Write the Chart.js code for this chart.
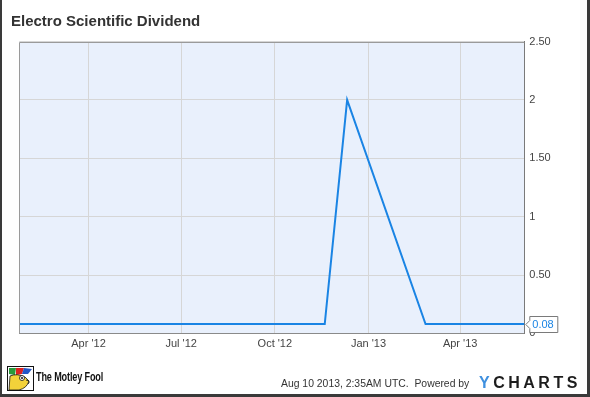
<!DOCTYPE html>
<html><head><meta charset="utf-8">
<script src="https://cdn.jsdelivr.net/npm/chart.js@4"></script>
<style>
html,body{margin:0;padding:0;background:#fff;}
#wrap{position:relative;width:590px;height:397px;overflow:hidden;font-family:"Liberation Sans",Arial,sans-serif;}
#c{position:absolute;left:0;top:0;}
.t{position:absolute;white-space:pre;}
#title{left:11px;top:13px;font-size:15px;line-height:15px;font-weight:bold;color:#333;}
#fool{left:36px;top:370px;font-size:13px;line-height:13px;font-weight:bold;color:#111;transform:scaleX(0.7);transform-origin:left top;letter-spacing:-0.2px;}
#stamp{left:281px;top:378.6px;font-size:10.4px;line-height:10.4px;color:#333;}
#yc{left:479px;top:374.5px;font-size:16px;line-height:16px;font-weight:bold;color:#1d1d1d;letter-spacing:3.5px;}
#yc span{color:#3f90df;}
#frame{position:absolute;left:0;top:0;width:585px;height:394px;border-left:2px solid #3a3a3a;border-right:3px solid #3a3a3a;border-bottom:3px solid #3a3a3a;pointer-events:none;}
#logo{position:absolute;left:7px;top:366px;}
</style></head>
<body>
<div id="wrap">
<canvas id="c" width="590" height="397"></canvas>
<div class="t" id="title">Electro Scientific Dividend</div>
<svg id="logo" width="27" height="25" viewBox="0 0 27 25">
<rect x="0.5" y="0.5" width="26" height="24" fill="#fff" stroke="#111"/>
<path d="M2 2 L9 2 L8 9 L2 8 Z" fill="#2a9a3a"/>
<path d="M9 2 L17 2 L15 8 L9 9 Z" fill="#d22"/>
<path d="M17 2 L25 3 L21 8 L15 8 Z" fill="#2356c8"/>
<path d="M3 10 Q10 7 18 11 L22 15 Q20 22 12 24 L2 24 Z" fill="#f3d23a" stroke="#111" stroke-width="0.8"/>
<circle cx="15" cy="12" r="2.5" fill="#fff" stroke="#111" stroke-width="0.8"/>
<circle cx="15" cy="12" r="1" fill="#111"/>
<path d="M19 14 Q24 15 21 18" fill="none" stroke="#111" stroke-width="0.8"/>
</svg>
<div class="t" id="fool">The Motley Fool</div>
<div class="t" id="stamp">Aug 10 2013, 2:35AM UTC.  Powered by</div>
<div class="t" id="yc"><span>Y</span>CHARTS</div>
<div id="frame"></div>
</div>
<script>
const pointDates = ["2012-01-24","2012-11-19","2012-12-11","2013-02-26","2013-06-03"];
const dividendValues = [0.08,0.08,2.00,0.08,0.08];
const axisStartDate = "2012-01-24";
const axisEndDate = "2013-06-03";
const xTickDates = ["2012-04-01","2012-07-01","2012-10-01","2013-01-01","2013-04-01"];
const xTickLabels = ["Apr '12","Jul '12","Oct '12","Jan '13","Apr '13"];
const yTickValues = [0,0.5,1,1.5,2,2.5];
const yTickLabels = ["0","0.50","1","1.50","2","2.50"];
const lastValueLabel = "0.08";

function dayNum(s){const p=s.split('-').map(Number);return Date.UTC(p[0],p[1]-1,p[2])/86400000;}
const xTickDays = xTickDates.map(dayNum);
const points = pointDates.map((d,i)=>({x:dayNum(d),y:dividendValues[i]}));

const LINE = '#1a84e4';

const plotDeco = {
  id:'plotDeco',
  beforeDraw(chart){
    const {ctx,chartArea:a}=chart;
    ctx.save();
    ctx.fillStyle='#e9f0fc';
    ctx.fillRect(a.left,a.top,a.right-a.left,a.bottom-a.top);
    ctx.restore();
  },
  afterDatasetsDraw(chart){
    const {ctx,chartArea:a}=chart;
    ctx.save();
    ctx.strokeStyle='#9a9a9a';ctx.lineWidth=1;
    ctx.beginPath();
    ctx.moveTo(Math.round(a.left)+0.5,a.bottom);
    ctx.lineTo(Math.round(a.left)+0.5,Math.round(a.top)+0.5);
    ctx.lineTo(a.right,Math.round(a.top)+0.5);
    ctx.stroke();
    ctx.restore();
  },
  afterDraw(chart){
    const {ctx}=chart;
    const xs=chart.scales.x, ys=chart.scales.y;
    const last=points[points.length-1];
    const px=xs.getPixelForValue(last.x), py=Math.round(ys.getPixelForValue(last.y));
    const l=px+5, r=px+33, t=py-8, b=py+8;
    ctx.save();
    ctx.beginPath();
    ctx.moveTo(l+0.5,t+0.5);ctx.lineTo(r+0.5,t+0.5);ctx.lineTo(r+0.5,b+0.5);ctx.lineTo(l+0.5,b+0.5);
    ctx.lineTo(l+0.5,py+4.5);ctx.lineTo(px+1.5,py+0.5);ctx.lineTo(l+0.5,py-3.5);ctx.closePath();
    ctx.fillStyle='#fff';ctx.fill();
    ctx.strokeStyle='#7a7a7a';ctx.lineWidth=1;ctx.stroke();
    ctx.fillStyle=LINE;ctx.font='11px "Liberation Sans", Arial, sans-serif';
    ctx.textBaseline='middle';ctx.textAlign='left';
    ctx.fillText(lastValueLabel,l+3,py+1);
    ctx.restore();
  }
};

new Chart(document.getElementById('c'),{
  type:'line',
  data:{datasets:[{data:points,borderColor:LINE,borderWidth:2,pointRadius:0,tension:0,fill:false}]},
  options:{
    responsive:false,animation:false,
    layout:{padding:{left:19.3,top:41.5,right:0,bottom:0}},
    plugins:{legend:{display:false},tooltip:{enabled:false},title:{display:false}},
    scales:{
      x:{type:'linear',min:dayNum(axisStartDate),max:dayNum(axisEndDate),
        afterBuildTicks(s){s.ticks=xTickDays.map(v=>({value:v}));},
        afterFit(s){s.height=397-333.4;},
        grid:{color:'#d6d6d6',drawTicks:false},
        border:{color:'#8a8a8a',width:1},
        ticks:{autoSkip:false,maxRotation:0,padding:4,color:'#444',font:{family:'"Liberation Sans", Arial, sans-serif',size:11},
          callback(v){const i=xTickDays.indexOf(v);return i>=0?xTickLabels[i]:'';}}
      },
      y:{position:'right',min:0,max:2.5,
        afterBuildTicks(s){s.ticks=yTickValues.map(v=>({value:v}));},
        afterFit(s){s.width=590-524.3;},
        grid:{color:'#d6d6d6',drawTicks:false},
        border:{color:'#7a7a7a',width:1},
        ticks:{padding:5,color:'#444',font:{family:'"Liberation Sans", Arial, sans-serif',size:11},
          callback(v){const i=yTickValues.indexOf(v);return i>=0?yTickLabels[i]:'';}}
      }
    }
  },
  plugins:[plotDeco]
});
</script>
</body></html>
